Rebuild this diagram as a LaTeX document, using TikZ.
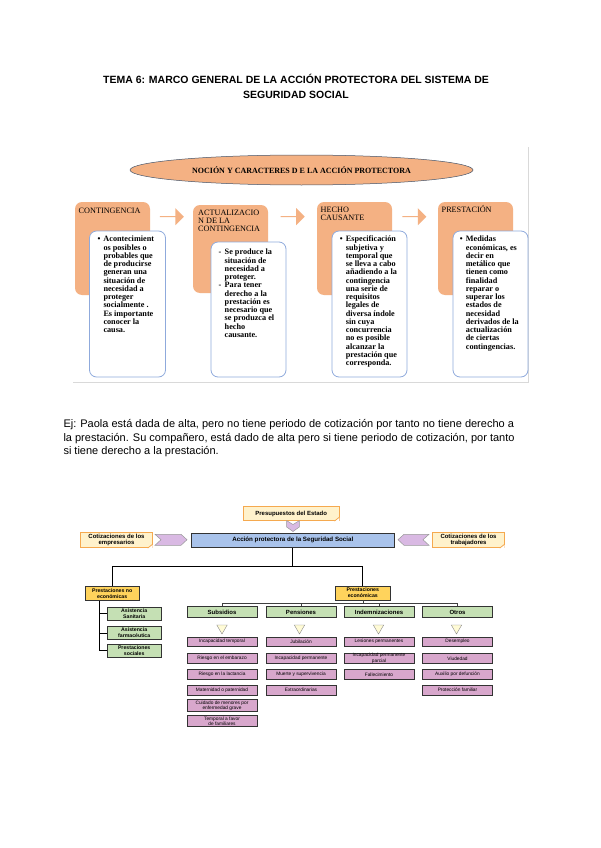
\documentclass[tikz,border=0pt]{standalone}
\usepackage{fontspec}
\setmainfont{Liberation Serif}
\setsansfont{Liberation Sans}
\usetikzlibrary{shapes.geometric,shapes.arrows}
\definecolor{salmon}{HTML}{F4B183}
\definecolor{ellb}{HTML}{44546A}
\definecolor{wblue}{HTML}{8FAADC}
\definecolor{noteyel}{HTML}{FFF2CC}
\definecolor{noteorg}{HTML}{F5A94F}
\definecolor{mainblue}{HTML}{A9C3EB}
\definecolor{gold}{HTML}{FFD35C}
\definecolor{lgreen}{HTML}{C5E0B4}
\definecolor{lpurple}{HTML}{D8A7CC}
\definecolor{chevp}{HTML}{D9B9E3}
\definecolor{triy}{HTML}{FFFBD6}
\definecolor{framec}{HTML}{D9D9D9}
\newcommand\myfold[1]{%
  \fill[white] ([xshift=-5pt]#1.south east) -- (#1.south east) -- ([yshift=4pt]#1.south east) -- cycle;
  \draw[noteorg,line width=0.8pt] ([xshift=-5pt]#1.south east) -- ([yshift=4pt]#1.south east);
}
\tikzset{
  obox/.style={fill=salmon, rounded corners=7pt, minimum width=75pt, inner sep=0},
  wbox/.style={draw=wblue, line width=0.8pt, fill=white, rounded corners=7pt, minimum width=76pt, inner sep=0},
  wtext/.style={anchor=north west, inner sep=0, font=\bfseries\fontsize{8.2}{8.25}\selectfont},
  otitle/.style={anchor=north west, inner sep=0, font=\fontsize{8.2}{8.1}\selectfont},
  bigarrow/.style={single arrow, fill=salmon, minimum height=24pt, minimum width=17pt, single arrow head extend=3.5pt, inner sep=0},
  notebox/.style={draw=noteorg, line width=0.8pt, fill=noteyel, inner sep=0, align=center, font=\sffamily\bfseries\fontsize{6}{6.6}\selectfont},
  tbox/.style={draw=black!80, line width=0.8pt, inner sep=0, align=center, font=\sffamily\bfseries\fontsize{5.2}{5.8}\selectfont},
  gbox/.style={tbox, fill=lgreen},
  ybox/.style={tbox, fill=gold},
  cat/.style={gbox, minimum width=70pt, minimum height=10.5pt, font=\sffamily\bfseries\fontsize{6}{6.6}\selectfont},
  pbox/.style={draw=black!80, line width=0.9pt, fill=lpurple, inner sep=0, minimum width=70pt, align=center, font=\sffamily\fontsize{4.8}{5.4}\selectfont},
  tri/.style={isosceles triangle, isosceles triangle apex angle=60, shape border rotate=270, draw=black!45, fill=triy, minimum height=9pt, inner sep=0},
  chev/.style={fill=chevp, draw=black!40, line width=0.5pt},
  tline/.style={black, line width=0.9pt},
  sline/.style={black!75, line width=0.6pt}
}
\begin{document}
\begin{tikzpicture}[x=1pt,y=-1pt]
\fill[white] (0,0) rectangle (600,848);
\useasboundingbox (0,0) rectangle (600,848);

% title
\node[inner sep=0, align=center, font=\sffamily\bfseries\fontsize{10.5}{15}\selectfont] (title) at (296,86)
  {TEMA 6: MARCO GENERAL DE LA ACCIÓN PROTECTORA DEL SISTEMA DE\\SEGURIDAD SOCIAL};

% frame of top figure
\draw[framec, line width=1pt] (73,382) -- (528.5,382) -- (528.5,147);

% ellipse
\node[ellipse, draw=ellb, line width=0.5pt, fill=salmon, minimum width=343pt, minimum height=30pt, inner sep=0,
  font=\bfseries\fontsize{8}{9}\selectfont] (noc) at (301.5,170) {NOCIÓN Y CARACTERES D E LA ACCIÓN PROTECTORA};

% orange boxes
\node[obox, minimum height=93pt] (o1) at (112.5,248.5) {};
\node[obox, minimum height=88pt] (o2) at (230.5,249) {};
\node[obox, minimum height=93pt] (o3) at (354.5,248.5) {};
\node[obox, minimum height=93pt] (o4) at (475.5,248.5) {};

% arrows between
\node[bigarrow] (a1) at (171.7,216.7) {};
\node[bigarrow] (a2) at (292.5,216.7) {};
\node[bigarrow] (a3) at (414.2,216.7) {};

% titles
\node[otitle, anchor=base west] (h1) at (78.5,213.4) {CONTINGENCIA};
\node[otitle] (h2) at (198,209.3) {\begin{tabular}{@{}l@{}}ACTUALIZACIO\\N DE LA\\CONTINGENCIA\end{tabular}};
\node[otitle] (h3) at (320.5,207) {\begin{tabular}{@{}l@{}}HECHO\\CAUSANTE\end{tabular}};
\node[otitle, anchor=base west] (h4) at (441.5,212.7) {PRESTACIÓN};

% white boxes
\node[wbox, minimum height=146pt] (w1) at (127.5,304) {};
\node[wbox, minimum width=75pt, minimum height=135pt] (w2) at (248.5,309.5) {};
\node[wbox, minimum width=75pt, minimum height=146pt] (w3) at (369.5,304) {};
\node[wbox, minimum width=75pt, minimum height=146pt] (w4) at (490.5,304) {};

\node[wtext] (x1) at (97.3,236) {\begin{tabular}{@{}p{6pt}@{}l@{}}
\textbullet & Acontecimient\\
 & os posibles o\\
 & probables que\\
 & de producirse\\
 & generan una\\
 & situación de\\
 & necesidad a\\
 & proteger\\
 & socialmente .\\
 & Es importante\\
 & conocer la\\
 & causa.
\end{tabular}};

\node[wtext] (x2) at (218.5,249) {\begin{tabular}{@{}p{6pt}@{}l@{}}
- & Se produce la\\
 & situación de\\
 & necesidad a\\
 & proteger.\\
- & Para tener\\
 & derecho a la\\
 & prestación es\\
 & necesario que\\
 & se produzca el\\
 & hecho\\
 & causante.
\end{tabular}};

\node[wtext] (x3) at (339.7,236) {\begin{tabular}{@{}p{6pt}@{}l@{}}
\textbullet & Especificación\\
 & subjetiva y\\
 & temporal que\\
 & se lleva a cabo\\
 & añadiendo a la\\
 & contingencia\\
 & una serie de\\
 & requisitos\\
 & legales de\\
 & diversa índole\\
 & sin cuya\\
 & concurrencia\\
 & no es posible\\
 & alcanzar la\\
 & prestación que\\
 & corresponda.
\end{tabular}};

\node[wtext] (x4) at (459.7,236) {\begin{tabular}{@{}p{6pt}@{}l@{}}
\textbullet & Medidas\\
 & económicas, es\\
 & decir en\\
 & metálico que\\
 & tienen como\\
 & finalidad\\
 & reparar o\\
 & superar los\\
 & estados de\\
 & necesidad\\
 & derivados de la\\
 & actualización\\
 & de ciertas\\
 & contingencias.
\end{tabular}};

% paragraph
\node[anchor=north west, inner sep=0, font=\sffamily\fontsize{11}{13.5}\selectfont] (para) at (63.3,418) {\begin{tabular}{@{}l@{}}
Ej: Paola está dada de alta, pero no tiene periodo de cotización por tanto no tiene derecho a\\
la prestación. Su compañero, está dado de alta pero si tiene periodo de cotización, por tanto\\
si tiene derecho a la prestación.
\end{tabular}};

% ---------- bottom diagram ----------
\node[notebox, minimum width=95.7pt, minimum height=14pt] (presu) at (291.2,513.7) {Presupuestos del Estado};
\myfold{presu}
\node[tbox, fill=mainblue, minimum width=202.3pt, minimum height=14pt, font=\sffamily\bfseries\fontsize{6.2}{7}\selectfont] (main) at (292.8,540.3) {Acción protectora de la Seguridad Social};
\node[notebox, minimum width=71.6pt, minimum height=15.4pt] (cemp) at (116.5,540) {Cotizaciones de los\\empresarios};
\myfold{cemp}
\node[notebox, minimum width=71.6pt, minimum height=15.4pt] (ctra) at (468.5,540) {Cotizaciones de los\\trabajadores};
\myfold{ctra}

% chevrons
\draw[chev] (155,534.3) -- (181,534.3) -- (187,539.7) -- (181,545.3) -- (155,545.3) -- (161,539.7) -- cycle;
\draw[chev] (429,534.3) -- (404,534.3) -- (398,539.7) -- (404,545.3) -- (429,545.3) -- (423,539.7) -- cycle;
\draw[chev] (286.7,520.7) -- (293,524.5) -- (299.3,520.7) -- (299.3,527) -- (293,531.5) -- (286.7,527) -- cycle;

% level 1
\node[ybox, minimum width=54.3pt, minimum height=14pt] (noeco) at (112.2,593.7) {Prestaciones no\\económicas};
\node[ybox, minimum width=55.7pt, minimum height=14pt] (eco) at (362.8,593) {Prestaciones\\económicas};
\draw[tline] (main.south) -- (292.8,566) coordinate (j);
\draw[tline] (j) -| (noeco.north);
\draw[tline] (j) -| (eco.north);

% non economic
\node[gbox, minimum width=53.7pt, minimum height=13pt] (as1) at (134.2,613.5) {Asistencia\\Sanitaria};
\node[gbox, minimum width=53.7pt, minimum height=12.5pt] (as2) at (134.2,633) {Asistencia\\farmacéutica};
\node[gbox, minimum width=53.7pt, minimum height=13pt] (as3) at (134.2,650.5) {Prestaciones\\sociales};
\draw[tline] (99.3,600.7) |- (as3.west);
\draw[tline] (99.3,613.5) -- (as1.west);
\draw[tline] (99.3,633) -- (as2.west);

% economic categories
\node[cat] (sub) at (222,612) {Subsidios};
\node[cat] (pen) at (301,612) {Pensiones};
\node[cat] (ind) at (379,612) {Indemnizaciones};
\node[cat] (otr) at (457.5,612) {Otros};
\draw[sline] (eco.south) -- (362.8,603.3) coordinate (k);
\draw[sline] (k) -| (sub.north);
\draw[sline] (k) -| (otr.north);
\draw[sline] (301,603.3) -- (pen.north);
\draw[sline] (379,603.3) -- (ind.north);

% triangles
\node[tri] (t1) at (222,628) {};
\node[tri] (t2) at (299.5,628) {};
\node[tri] (t3) at (378.5,628) {};
\node[tri] (t4) at (456.5,628) {};

% purple boxes - Subsidios
\node[pbox, minimum height=9.5pt] (s1) at (222,641.7) {Incapacidad temporal};
\node[pbox, minimum height=9.5pt] (s2) at (222,658.3) {Riesgo en el embarazo};
\node[pbox, minimum height=10pt] (s3) at (222,674.5) {Riesgo en la lactancia};
\node[pbox, minimum height=10pt] (s4) at (222,690) {Maternidad o paternidad};
\node[pbox, minimum height=11.5pt] (s5) at (222,705.5) {Cuidado de menores por\\enfermedad grave};
\node[pbox, minimum height=11.5pt] (s6) at (222,721) {Temporal a favor\\de familiares};
% Pensiones
\node[pbox, minimum height=9.5pt] (p1) at (301,641.7) {Jubilación};
\node[pbox, minimum height=9.5pt] (p2) at (301,658.3) {Incapacidad permanente};
\node[pbox, minimum height=10pt] (p3) at (301,674.5) {Muerte y supervivencia};
\node[pbox, minimum height=10pt] (p4) at (301,690) {Extraordinarias};
% Indemnizaciones
\node[pbox, minimum height=9.5pt] (i1) at (379,641.7) {Lesiones permanentes};
\node[pbox, minimum height=9.5pt] (i2) at (379,658.3) {Incapacidad permanente\\parcial};
\node[pbox, minimum height=10pt] (i3) at (379,674.5) {Fallecimiento};
% Otros
\node[pbox, minimum height=9.5pt] (r1) at (457.5,641.7) {Desempleo};
\node[pbox, minimum height=9.5pt] (r2) at (457.5,658.3) {Viudedad};
\node[pbox, minimum height=10pt] (r3) at (457.5,674.5) {Auxilio por defunción};
\node[pbox, minimum height=10pt] (r4) at (457.5,690) {Protección familiar};
\end{tikzpicture}
\end{document}
